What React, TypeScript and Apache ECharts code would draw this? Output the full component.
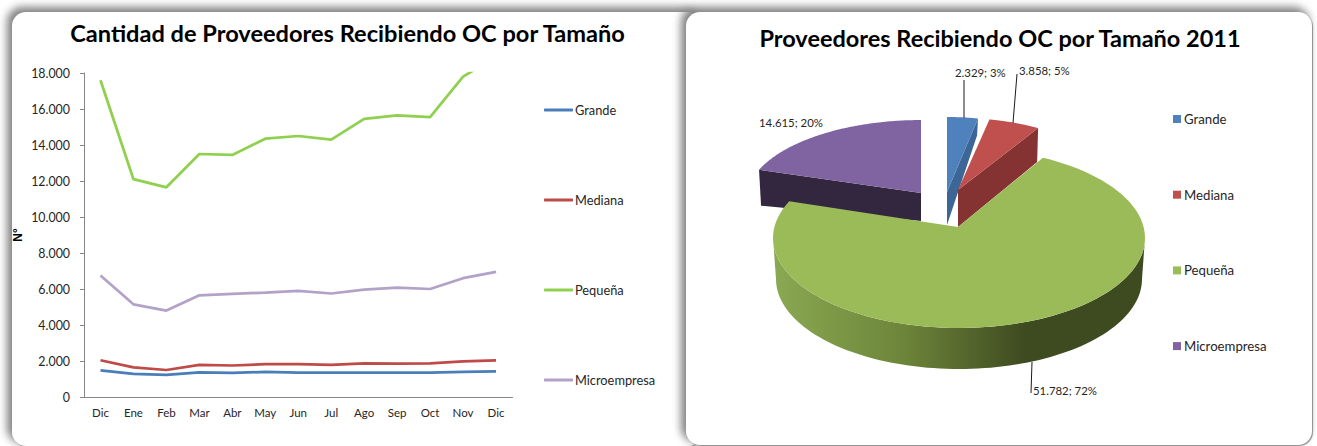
import React, { useEffect, useRef } from "react";
import * as echarts from "echarts";

const months = ["Dic", "Ene", "Feb", "Mar", "Abr", "May", "Jun", "Jul", "Ago", "Sep", "Oct", "Nov", "Dic"];
const grande = [1480, 1280, 1230, 1370, 1340, 1390, 1360, 1350, 1360, 1350, 1350, 1400, 1430];
const mediana = [2040, 1650, 1500, 1780, 1750, 1820, 1820, 1790, 1870, 1850, 1870, 1980, 2040];
const pequena = [17600, 12100, 11650, 13500, 13450, 14350, 14500, 14300, 15450, 15650, 15550, 17800, 18900];
const micro = [6750, 5150, 4800, 5650, 5730, 5800, 5900, 5750, 5970, 6070, 6000, 6600, 6950];
const yTicks = { min: 0, max: 18000, interval: 2000 };

const pieNames = ["Grande", "Mediana", "Pequeña", "Microempresa"];
const pieValues = [2329, 3858, 51782, 14615];
const pieLabels = ["2.329; 3%", "3.858; 5%", "51.782; 72%", "14.615; 20%"];

const FONT = "Lato";
const TEXT = "#262626";
const PIE_X = 686;

type Pt = [number, number];
const total = pieValues.reduce((a, b) => a + b, 0);
const sliceAngles = pieValues.map((v, i) => {
  const before = pieValues.slice(0, i).reduce((a, b) => a + b, 0);
  return [(before / total) * 360, ((before + v) / total) * 360];
});

// Exploded perspective layout of each slice, in page pixels.
const sliceLayout: Record<string, any> = {
  Grande: { a: [947, 192], e: [947, 192], rx: 155, ry: 75, top: "#4f81bd", dark: "#3b6695", dApex: 33, dOut: 17 },
  Mediana: { a: [958, 190], e: [958, 190], rx: 157, ry: 72, top: "#c0504d", dark: "#853332", dApex: 37, dOut: 34 },
  Pequeña: { a: [958, 227], e: [959, 238], rx: 186, ry: 90, top: "#9bbb59", dark: "", dApex: 41, dOut: 41 },
  Microempresa: { a: [921, 193], e: [922, 200], rx: 176, ry: 80, top: "#8064a2", dark: "#33263f", dApex: 28, dOut: 36 },
};
const leaders: Record<string, { from: Pt; to: Pt; text: Pt } | { text: Pt }> = {
  Grande: { from: [964, 80], to: [964, 118], text: [955, 72] },
  Mediana: { from: [1017, 74], to: [1013, 123], text: [1019, 70] },
  Pequeña: { from: [1032, 362], to: [1031, 393], text: [1033, 390] },
  Microempresa: { text: [759, 122] },
};
const drawOrder = ["Microempresa", "Grande", "Mediana", "Pequeña"];

function local(p: Pt): Pt {
  return [p[0] - PIE_X, p[1]];
}

// Point of a slice's rim at a clock angle seen from its apex.
function rim(l: any, deg: number): Pt {
  const t = (deg * Math.PI) / 180;
  const ax = (l.a[0] - l.e[0]) / l.rx;
  const ay = (l.a[1] - l.e[1]) / l.ry;
  const dx = Math.sin(t);
  const dy = -Math.cos(t);
  const dot = ax * dx + ay * dy;
  const k = -dot + Math.sqrt(dot * dot + 1 - ax * ax - ay * ay);
  return [l.e[0] + (ax + k * dx) * l.rx, l.e[1] + (ay + k * dy) * l.ry];
}

function renderSlice(name: string) {
  return () => {
    const idx = pieNames.indexOf(name);
    const l = sliceLayout[name];
    const [from, to] = sliceAngles[idx];
    const arc: Pt[] = [];
    for (let d = from; d <= to + 0.001; d += (to - from) / 90) arc.push(rim(l, d));
    const children: any[] = [];
    if (name === "Pequeña") {
      const front: Pt[] = [];
      const back: Pt[] = [];
      for (let d = 0; d <= 180; d += 2) {
        const t = (d * Math.PI) / 180;
        front.push(local([l.e[0] + l.rx * Math.cos(t), l.e[1] + l.ry * Math.sin(t)]));
        back.unshift(local([l.e[0] + (l.rx - 3) * Math.cos(t), l.e[1] + l.dApex + l.ry * Math.sin(t)]));
      }
      children.push({
        type: "polygon",
        shape: { points: [...front, ...back] },
        style: {
          fill: new echarts.graphic.LinearGradient(0, 0, 1, 0, [
            { offset: 0, color: "#8aa952" },
            { offset: 0.35, color: "#6d853a" },
            { offset: 0.68, color: "#3e4a20" },
            { offset: 1, color: "#3e4a20" },
          ]),
        },
      });
    } else {
      const out = name === "Microempresa" ? arc[0] : arc[arc.length - 1];
      const pts: Pt[] = [l.a, out, [out[0] + (name === "Microempresa" ? 2 : -1), out[1] + l.dOut], [l.a[0], l.a[1] + l.dApex]];
      children.push({ type: "polygon", shape: { points: pts.map(local) }, style: { fill: l.dark } });
    }
    children.push({ type: "polygon", shape: { points: [l.a, ...arc].map(local) }, style: { fill: l.top } });
    const lead: any = leaders[name];
    if (lead.from) {
      children.push({
        type: "line",
        shape: { x1: lead.from[0] - PIE_X, y1: lead.from[1], x2: lead.to[0] - PIE_X, y2: lead.to[1] },
        style: { stroke: "#1a1a1a", lineWidth: 1 },
      });
    }
    children.push({
      type: "text",
      style: {
        x: lead.text[0] - PIE_X,
        y: lead.text[1],
        text: pieLabels[idx],
        fill: TEXT,
        fontFamily: FONT,
        fontSize: 11.4,
        verticalAlign: "middle",
      },
    });
    return { type: "group", children };
  };
}

const lineOption: any = {
  animation: false,
  title: {
    text: "Cantidad de Proveedores Recibiendo OC por Tamaño",
    left: 342.5,
    top: 16,
    textAlign: "center",
    textStyle: { fontFamily: FONT, fontWeight: "bold", fontSize: 23.6, color: "#000" },
  },
  grid: { left: 84, top: 73, width: 428.5, height: 324, containLabel: false },
  legend: {
    orient: "vertical",
    left: 544,
    top: 103.5,
    padding: 0,
    icon: "roundRect",
    itemWidth: 29,
    itemHeight: 3,
    itemGap: 77,
    selectedMode: false,
    textStyle: { fontFamily: FONT, fontSize: 12.8, color: TEXT, padding: [0, 0, 0, -3] },
    data: ["Grande", "Mediana", "Pequeña", "Microempresa"],
  },
  xAxis: {
    type: "category",
    data: months,
    boundaryGap: true,
    axisLine: { lineStyle: { color: "#868686" } },
    axisTick: { length: 4, interval: 0, lineStyle: { color: "#868686" } },
    axisLabel: { interval: 0, margin: 9, fontFamily: FONT, fontSize: 11.5, color: TEXT },
    splitLine: { show: false },
  },
  yAxis: {
    type: "value",
    ...yTicks,
    name: "N°",
    nameLocation: "middle",
    nameGap: 60,
    nameRotate: 90,
    nameMoveOverlap: false,
    nameTextStyle: { fontFamily: "Liberation Sans", fontWeight: "bold", fontSize: 12, color: "#000" },
    axisLine: { show: true, lineStyle: { color: "#868686" } },
    axisTick: { show: true, length: 4, lineStyle: { color: "#868686" } },
    axisLabel: {
      margin: 14,
      fontFamily: FONT,
      fontSize: 12.4,
      color: TEXT,
      formatter: (v: number) => String(v).replace(/\B(?=(\d{3})+$)/g, "."),
    },
    splitLine: { show: false },
  },
  series: [
    { name: "Grande", data: grande, color: "#4a7ebb" },
    { name: "Mediana", data: mediana, color: "#be4b48" },
    { name: "Pequeña", data: pequena, color: "#8fd14f" },
    { name: "Microempresa", data: micro, color: "#b3a2c7" },
  ].map((s) => ({
    ...s,
    type: "line",
    symbol: "none",
    clip: true,
    lineStyle: { width: 2.75, color: s.color },
    itemStyle: { color: s.color },
  })),
};

const pieOption: any = {
  animation: false,
  title: {
    text: "Proveedores Recibiendo OC por Tamaño 2011",
    left: 995 - PIE_X,
    top: 21,
    textAlign: "center",
    textStyle: { fontFamily: FONT, fontWeight: "bold", fontSize: 23.5, color: "#000" },
  },
  legend: {
    orient: "vertical",
    left: 1173 - PIE_X,
    top: 112.5,
    padding: 0,
    icon: "rect",
    itemWidth: 8,
    itemHeight: 8,
    itemGap: 62.7,
    selectedMode: false,
    textStyle: { fontFamily: FONT, fontSize: 13.2, color: TEXT, padding: [0, 0, 0, -2] },
    data: pieNames,
  },
  series: drawOrder.map((name) => ({
    type: "custom",
    name,
    coordinateSystem: "none",
    data: [pieValues[pieNames.indexOf(name)]],
    itemStyle: { color: sliceLayout[name].top },
    renderItem: renderSlice(name),
  })),
};

export default function App() {
  const lineRef = useRef<HTMLDivElement>(null);
  const pieRef = useRef<HTMLDivElement>(null);
  useEffect(() => {
    const a = echarts.init(lineRef.current!, undefined, { renderer: "svg" });
    const b = echarts.init(pieRef.current!, undefined, { renderer: "svg" });
    a.setOption(lineOption);
    b.setOption(pieOption);
    return () => {
      a.dispose();
      b.dispose();
    };
  }, []);
  const card: React.CSSProperties = {
    position: "absolute",
    background: "#fff",
    borderRadius: 14,
    boxShadow: "-4px -4px 8px 1px #808080, 1px 1px 1px #909090",
  };
  return (
    <div style={{ position: "fixed", left: 0, top: 0, width: 1317, height: 446, overflow: "hidden", background: "#fff" }}>
      <div style={{ ...card, left: 12, top: 12, width: 690, height: 434 }} />
      <div ref={lineRef} style={{ position: "absolute", left: 0, top: 0, width: 680, height: 446 }} />
      <div style={{ ...card, left: PIE_X, top: 12, width: 626, height: 433 }} />
      <div ref={pieRef} style={{ position: "absolute", left: PIE_X, top: 0, width: 626, height: 446 }} />
    </div>
  );
}
